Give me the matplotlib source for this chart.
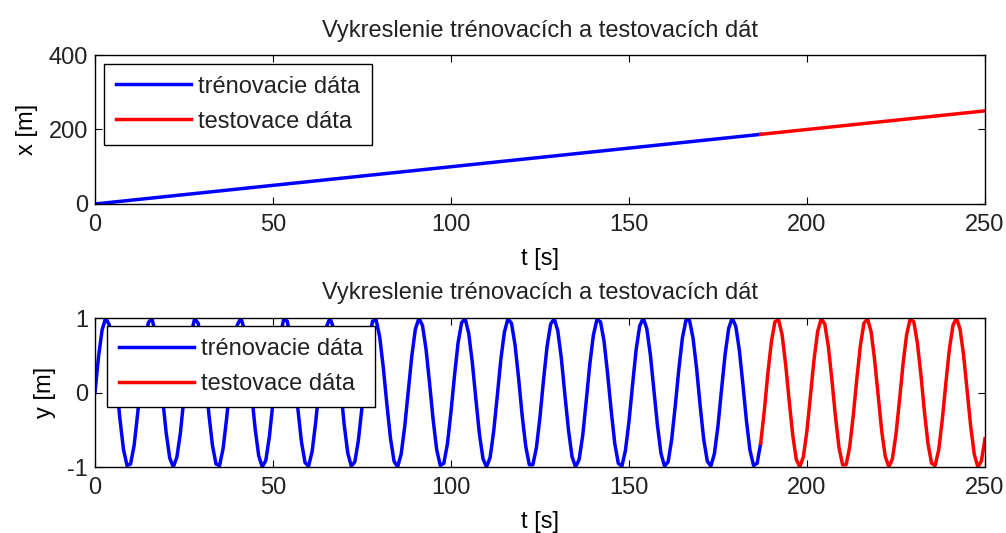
import numpy as np
import matplotlib
matplotlib.use('Agg')
import matplotlib.pyplot as plt

# --- Data ---
# casova os (vzorky kazdu sekundu)
t_s = np.arange(0, 251)
split_idx = 187  # koniec trenovacich dat

# poloha x [m] - priamka, odcitane v niekolkych bodoch
t_x_train = [0, 50, 100, 150, 187]
x_train = [0, 50, 100, 150, 187]
t_x_test = [187, 200, 250]
x_test = [187, 200, 250]

# poloha y [m] - odcitane po 1 s
y_m = [
    0.00, 0.48, 0.84, 1.00, 0.91, 0.60, 0.14, -0.35, -0.76, -0.98, -0.96, -0.71, -0.28,
    0.22, 0.66, 0.94, 0.99, 0.80, 0.41, -0.08, -0.54, -0.88, -1.00, -0.87, -0.54,
    -0.07, 0.42, 0.80, 0.99, 0.93, 0.65, 0.21, -0.29, -0.71, -0.96, -0.98, -0.75, -0.34,
    0.15, 0.61, 0.91, 1.00, 0.84, 0.47, -0.01, -0.49, -0.85, -1.00, -0.91, -0.59,
    -0.13, 0.36, 0.76, 0.98, 0.96, 0.70, 0.27, -0.22, -0.66, -0.94, -0.99, -0.79, -0.40,
    0.08, 0.55, 0.88, 1.00, 0.87, 0.53, 0.06, -0.43, -0.81, -0.99, -0.93, -0.64,
    -0.20, 0.30, 0.72, 0.96, 0.97, 0.74, 0.33, -0.16, -0.61, -0.92, -1.00, -0.83, -0.46,
    0.02, 0.49, 0.85, 1.00, 0.90, 0.58, 0.12, -0.37, -0.77, -0.98, -0.95, -0.69,
    -0.26, 0.23, 0.67, 0.94, 0.99, 0.79, 0.40, -0.09, -0.56, -0.89, -1.00, -0.87, -0.52,
    -0.05, 0.44, 0.81, 0.99, 0.93, 0.64, 0.19, -0.31, -0.72, -0.97, -0.97, -0.74,
    -0.33, 0.17, 0.62, 0.92, 0.99, 0.83, 0.46, -0.03, -0.50, -0.86, -1.00, -0.90, -0.58,
    -0.11, 0.38, 0.77, 0.98, 0.95, 0.69, 0.25, -0.24, -0.68, -0.95, -0.99, -0.78,
    -0.39, 0.10, 0.57, 0.89, 1.00, 0.86, 0.51, 0.04, -0.44, -0.82, -0.99, -0.93, -0.63,
    -0.18, 0.31, 0.73, 0.97, 0.97, 0.73, 0.32, -0.18, -0.63, -0.92, -0.99, -0.82,
    -0.45, 0.04, 0.51, 0.86, 1.00, 0.89, 0.57, 0.11, -0.38, -0.78, -0.98, -0.95, -0.68,
    -0.25, 0.25, 0.68, 0.95, 0.98, 0.78, 0.38, -0.11, -0.57, -0.90, -1.00, -0.86,
    -0.51, -0.03, 0.45, 0.82, 0.99, 0.92, 0.62, 0.17, -0.32, -0.74, -0.97, -0.97, -0.73,
    -0.31, 0.18, 0.63, 0.93, 0.99, 0.82, 0.44, -0.04, -0.52, -0.86, -1.00, -0.89,
    -0.56, -0.10, 0.39, 0.78, 0.99, 0.95, 0.67, 0.24, -0.26, -0.69, -0.95, -0.98, -0.77,
    -0.37, 0.12, 0.58, 0.90, 1.00, 0.85, 0.50, 0.02, -0.46, -0.83, -1.00, -0.92,
    -0.62,
]

title = 'Vykreslenie trénovacích a testovacích dát'
lbl_train = 'trénovacie dáta'
lbl_test = 'testovace dáta'

plt.rcParams.update({
    'font.family': ['Liberation Sans', 'DejaVu Sans'],
    'font.size': 17,
    'axes.linewidth': 1.0,
    'axes.unicode_minus': False,
    'xtick.direction': 'in',
    'ytick.direction': 'in',
    'xtick.top': True,
    'ytick.right': True,
    'xtick.major.size': 5,
    'ytick.major.size': 5,
    'xtick.major.pad': 7,
    'ytick.major.pad': 5,
    'text.color': '#222222',
    'xtick.labelcolor': '#222222',
    'ytick.labelcolor': '#222222',
})

fig = plt.figure(figsize=(10.06, 5.33), dpi=100)
ax1 = fig.add_axes([0.0944, 0.6173, 0.8847, 0.2795])
ax2 = fig.add_axes([0.0944, 0.1238, 0.8847, 0.2795])

lw = 2.5
ax1.plot(t_x_train, x_train, color='#0000ff', lw=lw, label=lbl_train)
ax1.plot(t_x_test, x_test, color='#ff0000', lw=lw, label=lbl_test)
ax1.set_xlim(0, 250)
ax1.set_ylim(0, 400)
ax1.set_yticks([0, 200, 400])
ax1.set_xticks([0, 50, 100, 150, 200, 250])
ax1.set_xlabel('t [s]', labelpad=9)
ax1.set_ylabel('x [m]', labelpad=8)
ax1.set_title(title, fontsize=17, pad=13)

y_arr = np.array(y_m)
ax2.plot(t_s[:split_idx + 1], y_arr[:split_idx + 1], color='#0000ff', lw=lw, label=lbl_train)
ax2.plot(t_s[split_idx:], y_arr[split_idx:], color='#ff0000', lw=lw, label=lbl_test)
ax2.set_xlim(0, 250)
ax2.set_ylim(-1, 1)
ax2.set_yticks([-1, 0, 1])
ax2.set_xticks([0, 50, 100, 150, 200, 250])
ax2.set_xlabel('t [s]', labelpad=9)
ax2.set_ylabel('y [m]', labelpad=8)
ax2.set_title(title, fontsize=17, pad=14)

for ax, anchor in ((ax1, (0.010, 0.94)), (ax2, (0.0135, 0.946))):
    leg = ax.legend(loc='upper left', bbox_to_anchor=anchor, borderaxespad=0,
                    fancybox=False, framealpha=1, edgecolor='black',
                    handlelength=3.2, handletextpad=0.3, borderpad=0.5,
                    labelspacing=0.55, fontsize=17)
    leg.get_frame().set_linewidth(1.0)

plt.savefig('out.png', dpi=100)
plt.close()
